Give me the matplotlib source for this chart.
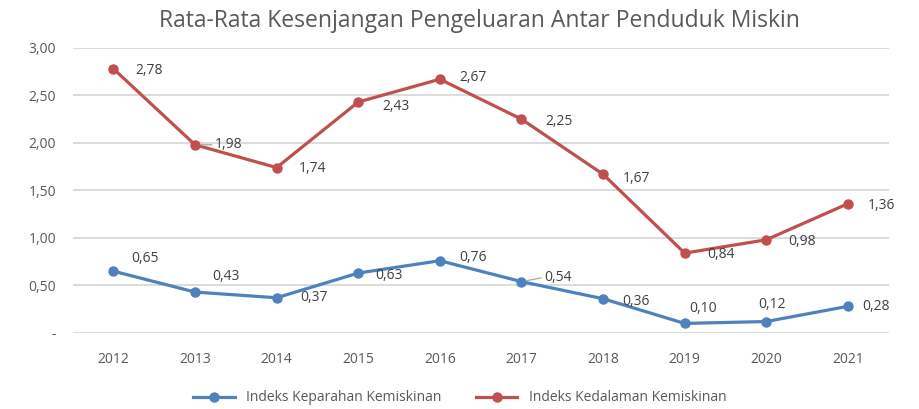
import matplotlib.pyplot as plt
from matplotlib.ticker import FuncFormatter

plt.rcParams['font.family'] = ['Open Sans', 'DejaVu Sans']

years = ['2012', '2013', '2014', '2015', '2016', '2017', '2018', '2019', '2020', '2021']
keparahan = [0.65, 0.43, 0.37, 0.63, 0.76, 0.54, 0.36, 0.10, 0.12, 0.28]
kedalaman = [2.78, 1.98, 1.74, 2.43, 2.67, 2.25, 1.67, 0.84, 0.98, 1.36]

# label offsets in points (x right, y up)
off_blue = [(23, 9), (22, 11), (27, 0), (22, -2), (24, 2), (26, 3), (24, -2), (13, 11), (4, 12), (20, 0)]
off_red = [(26, -1), (24, 0), (26, -1), (27, -3), (24, 1), (27, -2), (24, -3), (26, -1), (26, -1), (24, -1)]
leader_blue = [5]
leader_red = [1]

blue = '#4F81BD'
red = '#C0504D'
txt = '#595959'

fig = plt.figure(figsize=(9.19, 4.09), dpi=100)
ax = fig.add_axes([0.079, 0.186, 0.888, 0.697])

x = list(range(len(years)))
l1, = ax.plot(x, keparahan, color=blue, lw=2.3, marker='o', ms=6.5, label='Indeks Keparahan Kemiskinan')
l2, = ax.plot(x, kedalaman, color=red, lw=2.3, marker='o', ms=6.5, label='Indeks Kedalaman Kemiskinan')


def fmt(v):
    return f'{v:.2f}'.replace('.', ',')


for vals, offs, leaders in [(keparahan, off_blue, leader_blue), (kedalaman, off_red, leader_red)]:
    for i, v in enumerate(vals):
        ap = None
        if i in leaders:
            ap = dict(arrowstyle='-', color='#A6A6A6', lw=0.9, shrinkA=0, shrinkB=4,
                      relpos=(0, 0.5))
        ax.annotate(fmt(v), (i, v), xytext=offs[i], textcoords='offset points',
                    ha='center', va='center', fontsize=10, color='#404040', arrowprops=ap)

ax.set_xlim(-0.5, len(years) - 0.5)
ax.set_ylim(0, 3.0)
ax.set_yticks([0, 0.5, 1.0, 1.5, 2.0, 2.5, 3.0])
ax.yaxis.set_major_formatter(FuncFormatter(lambda v, p: '-' if v == 0 else fmt(v)))
ax.set_xticks(x)
ax.set_xticklabels(years)
ax.tick_params(length=0, colors=txt, labelsize=10)
ax.tick_params(axis='x', pad=14)
ax.tick_params(axis='y', pad=12)
ax.grid(axis='y', color='#D9D9D9', lw=1.3)
ax.set_axisbelow(True)
for s in ax.spines.values():
    s.set_visible(False)

fig.suptitle('Rata-Rata Kesenjangan Pengeluaran Antar Penduduk Miskin', x=0.522, y=0.978,
             va='top', fontsize=16.5, color=txt)
fig.legend(handles=[l1, l2], loc='center', bbox_to_anchor=(0.5, 0.027), ncol=2, frameon=False,
           fontsize=10, labelcolor=txt, handlelength=3, columnspacing=2.5)

fig.savefig('out.png', dpi=100)
